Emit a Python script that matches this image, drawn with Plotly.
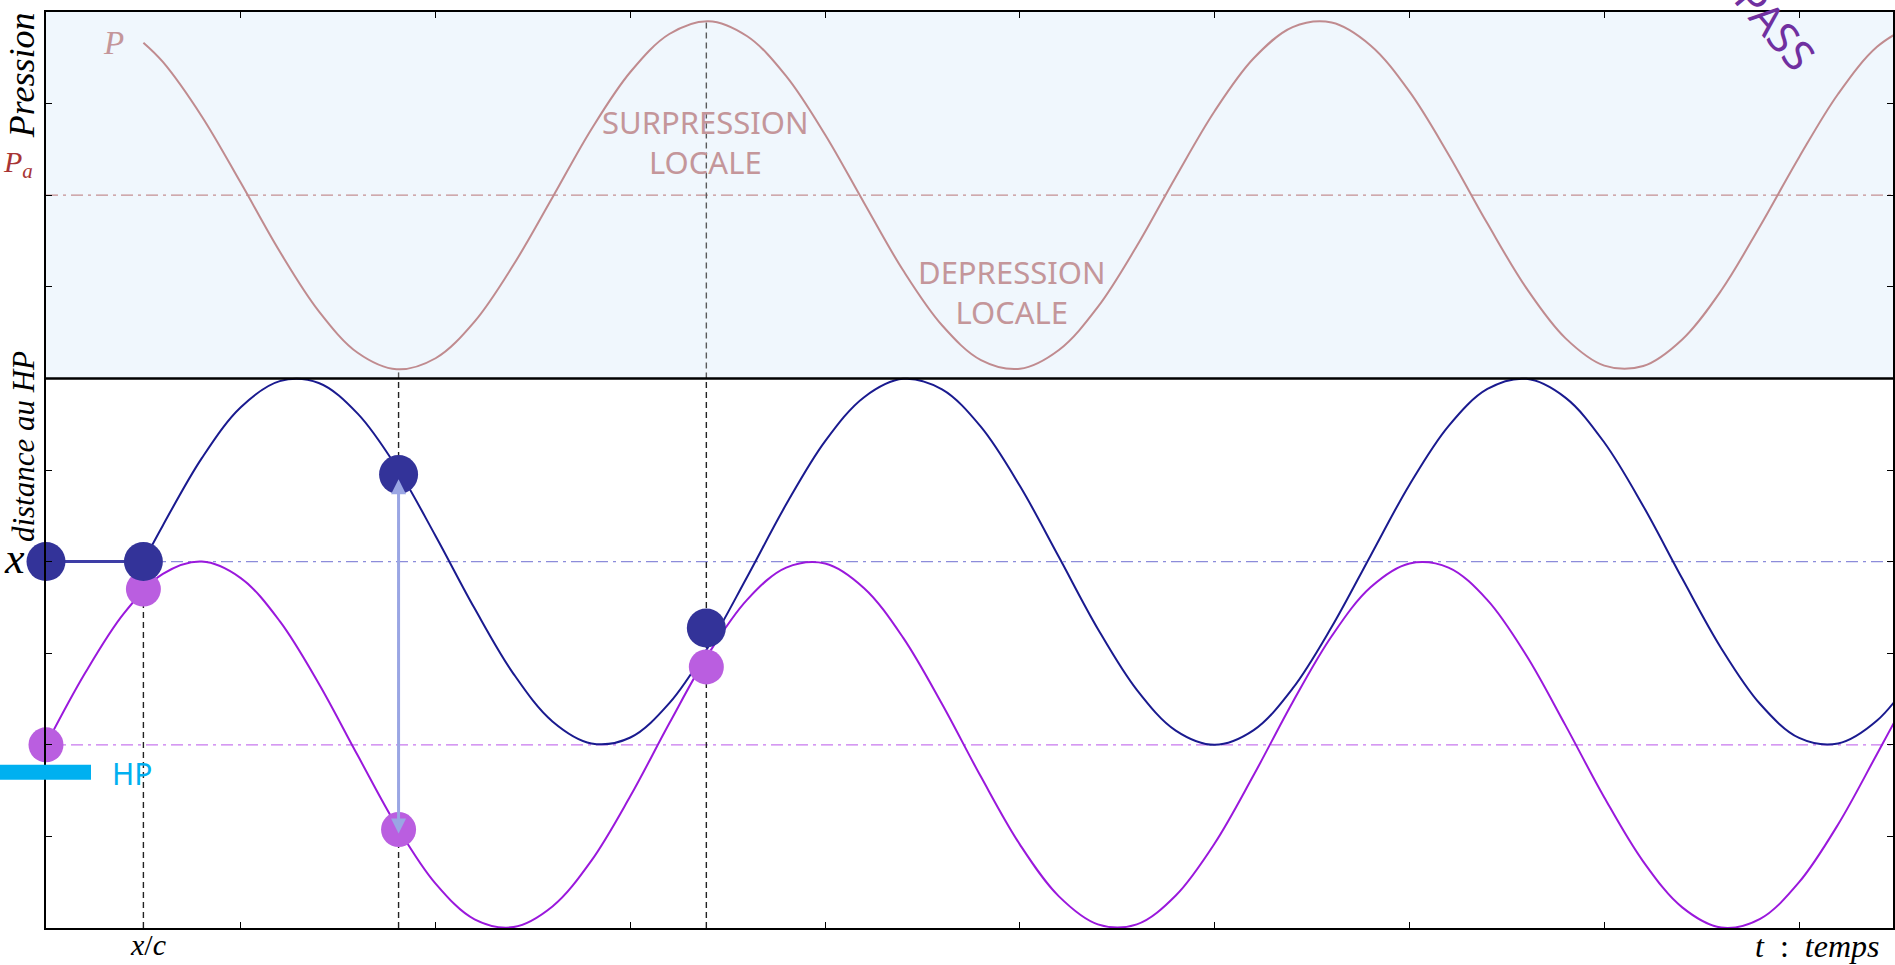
import plotly.graph_objects as go

# ---------------- data ----------------
# time axis samples (t units: one x tick = 1)
T_PURPLE = [0.0, 0.2, 0.4, 0.6, 0.8, 1.0, 1.2, 1.4, 1.6, 1.8, 2.0, 2.2, 2.4, 2.6, 2.8, 3.0,
            3.2, 3.4, 3.6, 3.8, 4.0, 4.2, 4.4, 4.6, 4.8, 5.0, 5.2, 5.4, 5.6, 5.8, 6.0, 6.2,
            6.4, 6.6, 6.8, 7.0, 7.2, 7.4, 7.6, 7.8, 8.0, 8.2, 8.4, 8.6, 8.8, 9.0, 9.2, 9.4, 9.6]
# displacement of the particle at the HP
Y_PURPLE = [-0.600, -0.444, -0.313, -0.227, -0.200, -0.236, -0.330, -0.466, -0.623, -0.777,
            -0.903, -0.981, -0.998, -0.953, -0.853, -0.712, -0.553, -0.402, -0.283, -0.213,
            -0.204, -0.258, -0.366, -0.511, -0.670, -0.818, -0.931, -0.992, -0.992, -0.929,
            -0.815, -0.666, -0.507, -0.363, -0.256, -0.204, -0.213, -0.284, -0.405, -0.557,
            -0.715, -0.855, -0.955, -0.999, -0.980, -0.900, -0.774, -0.620, -0.463]

# displacement of the particle at distance x (at rest before x/c)
T_BLUE = [0.0, 0.5, 0.6, 0.8, 1.0, 1.2, 1.4, 1.6, 1.8, 2.0, 2.2, 2.4, 2.6, 2.8, 3.0, 3.2, 3.4,
          3.6, 3.8, 4.0, 4.2, 4.4, 4.6, 4.8, 5.0, 5.2, 5.4, 5.6, 5.8, 6.0, 6.2, 6.4, 6.6, 6.8,
          7.0, 7.2, 7.4, 7.6, 7.8, 8.0, 8.2, 8.4, 8.6, 8.8, 9.0, 9.2, 9.4, 9.6]
Y_BLUE = [-0.200, -0.200, -0.121, 0.026, 0.137, 0.194, 0.190, 0.123, 0.006, -0.144, -0.302,
          -0.445, -0.549, -0.597, -0.584, -0.509, -0.386, -0.233, -0.075, 0.063, 0.159, 0.199,
          0.176, 0.094, -0.035, -0.190, -0.347, -0.480, -0.569, -0.600, -0.568, -0.477, -0.343,
          -0.187, -0.032, 0.096, 0.177, 0.199, 0.158, 0.060, -0.079, -0.237, -0.389, -0.511,
          -0.585, -0.597, -0.547, -0.442]

# pressure at distance x
T_PRESS = [0.5, 0.6, 0.8, 1.0, 1.2, 1.4, 1.6, 1.8, 2.0, 2.2, 2.4, 2.6, 2.8, 3.0, 3.2, 3.4, 3.6,
           3.8, 4.0, 4.2, 4.4, 4.6, 4.8, 5.0, 5.2, 5.4, 5.6, 5.8, 6.0, 6.2, 6.4, 6.6, 6.8, 7.0,
           7.2, 7.4, 7.6, 7.8, 8.0, 8.2, 8.4, 8.6, 8.8, 9.0, 9.2, 9.4, 9.6]
Y_PRESS = [0.933, 0.891, 0.772, 0.627, 0.477, 0.347, 0.256, 0.220, 0.244, 0.324, 0.448, 0.595,
           0.744, 0.869, 0.952, 0.980, 0.947, 0.860, 0.732, 0.583, 0.436, 0.316, 0.240, 0.221,
           0.262, 0.356, 0.489, 0.640, 0.784, 0.899, 0.967, 0.977, 0.927, 0.826, 0.689, 0.538,
           0.397, 0.288, 0.228, 0.227, 0.285, 0.392, 0.533, 0.683, 0.821, 0.924, 0.976]

# reference levels
PA_LEVEL = 0.6        # atmospheric pressure
X_LEVEL = -0.2        # rest position of particle at distance x
HP_LEVEL = -0.6       # rest position of particle at HP
PANEL_SPLIT = 0.2     # bottom of the pressure panel

# particles (balls)
BLUE_BALL_T = [0.0, 0.5, 1.81, 3.39]
BLUE_BALL_Y = [-0.20, -0.20, -0.01, -0.345]
PURPLE_BALL_T = [0.0, 0.5, 1.81, 3.39]
PURPLE_BALL_Y = [-0.60, -0.26, -0.785, -0.43]

# vertical dashed guides
GUIDE_T = [0.5, 1.81, 3.39]
GUIDE_TOP = [-0.26, 0.22, 0.98]

# arrow between the two particles
ARROW_T = 1.81
ARROW_Y = [-0.02, -0.797]

X_MAX = 9.482

# ---------------- colours ----------------
C_PRESS = "#C08B8F"
C_BLUE = "#1A1A8F"
C_PURPLE = "#9A18DC"
C_BLUE_BALL = "#333399"
C_PURPLE_BALL = "#BA5EE0"
C_TEXT_ROSE = "#C4969A"

SERIF = "Liberation Serif"
SANS = "Noto Sans"
DASHDOT = "12px,5px,3px,5px"

fig = go.Figure()

# reference dash-dot levels
fig.add_trace(go.Scatter(x=[0, X_MAX], y=[PA_LEVEL, PA_LEVEL], mode="lines",
                         line=dict(color="#C39092", width=1.3, dash=DASHDOT), hoverinfo="skip"))
fig.add_trace(go.Scatter(x=[0, X_MAX], y=[X_LEVEL, X_LEVEL], mode="lines",
                         line=dict(color="#8C8CDA", width=1.3, dash=DASHDOT), hoverinfo="skip"))
fig.add_trace(go.Scatter(x=[0, X_MAX], y=[HP_LEVEL, HP_LEVEL], mode="lines",
                         line=dict(color="#C878EE", width=1.3, dash=DASHDOT), hoverinfo="skip"))

# vertical dashed guides (black in lower panel, grey in pressure panel)
for t, top in zip(GUIDE_T, GUIDE_TOP):
    fig.add_trace(go.Scatter(x=[t, t], y=[-1, min(top, PANEL_SPLIT)], mode="lines",
                             line=dict(color="#222222", width=1.4, dash="6px,4px"),
                             hoverinfo="skip"))
    if top > PANEL_SPLIT:
        fig.add_trace(go.Scatter(x=[t, t], y=[PANEL_SPLIT, top], mode="lines",
                                 line=dict(color="#5A5A5A", width=1.4, dash="6px,4px"),
                                 hoverinfo="skip"))

# curves
fig.add_trace(go.Scatter(x=T_PRESS, y=Y_PRESS, mode="lines",
                         line=dict(color=C_PRESS, width=2, shape="spline", smoothing=1.0),
                         hoverinfo="skip"))
fig.add_trace(go.Scatter(x=T_PURPLE, y=Y_PURPLE, mode="lines",
                         line=dict(color=C_PURPLE, width=2, shape="spline", smoothing=1.0),
                         hoverinfo="skip"))
fig.add_trace(go.Scatter(x=T_BLUE[:2], y=Y_BLUE[:2], mode="lines",
                         line=dict(color="#3E3EA6", width=3), hoverinfo="skip"))
fig.add_trace(go.Scatter(x=T_BLUE[1:], y=Y_BLUE[1:], mode="lines",
                         line=dict(color=C_BLUE, width=2, shape="spline", smoothing=1.0),
                         hoverinfo="skip"))

# balls
fig.add_trace(go.Scatter(x=PURPLE_BALL_T, y=PURPLE_BALL_Y, mode="markers", cliponaxis=False,
                         marker=dict(color=C_PURPLE_BALL, size=35, line=dict(width=0)),
                         hoverinfo="skip"))
fig.add_trace(go.Scatter(x=BLUE_BALL_T, y=BLUE_BALL_Y, mode="markers", cliponaxis=False,
                         marker=dict(color=C_BLUE_BALL, size=39, line=dict(width=0)),
                         hoverinfo="skip"))

shapes = [
    # light pressure panel
    dict(type="rect", xref="paper", yref="y", x0=0, x1=1, y0=PANEL_SPLIT, y1=1,
         fillcolor="#F0F7FD", line=dict(width=0), layer="below"),
    # divider
    dict(type="line", xref="paper", yref="y", x0=0, x1=1, y0=PANEL_SPLIT, y1=PANEL_SPLIT,
         line=dict(color="black", width=2.5), layer="above"),
    # HP plate
    dict(type="rect", xref="paper", yref="y", xsizemode="pixel", ysizemode="pixel",
         xanchor=0, yanchor=HP_LEVEL, x0=-46, x1=45, y0=-20, y1=-35,
         fillcolor="#00B0F0", line=dict(width=0), layer="above"),
]

ann = []
def txt(text, x, y, size, color, family, angle=0, ref="data", **kw):
    r = ("x", "y") if ref == "data" else ("paper", "paper")
    d = dict(text=text, x=x, y=y, xref=r[0], yref=r[1], showarrow=False,
             font=dict(size=size, color=color, family=family), textangle=angle,
             xanchor="center", yanchor="middle")
    d.update(kw)
    ann.append(d)

# labels outside the plotting area (paper coordinates)
txt("<i>Pression</i>", -0.0130, 0.931, 36, "black", SERIF, angle=-90, ref="paper")
txt("<i>P<sub>a</sub></i>", -0.0151, 0.834, 30, "#A83434", SERIF, ref="paper")
txt("<i>x</i>", -0.0168, 0.403, 44, "black", SERIF, ref="paper")
txt("<i>distance au HP</i>", -0.0125, 0.526, 31, "black", SERIF, angle=-90, ref="paper")
txt("<i>x</i>/<i>c</i>", 0.0552, -0.0175, 30, "black", SERIF, ref="paper")
txt("<i>t</i>\u2002:\u2002<i>temps</i>", 0.9589, -0.0200, 32, "black", SERIF,
    ref="paper")
# labels inside the plot (data coordinates)
txt("<i>P</i>", 0.344, 0.932, 33, C_TEXT_ROSE, SERIF)
txt("SURPRESSION<br>LOCALE", 3.385, 0.716, 31, C_TEXT_ROSE, SANS)
txt("DEPRESSION<br>LOCALE", 4.958, 0.388, 31, C_TEXT_ROSE, SANS)
txt("HP", 0.441, -0.662, 30, "#00B0F0", SANS)
txt("PASS", 8.882, 0.969, 42, "#7030A0", SANS, angle=50)

# arrow between the particles
ann.append(dict(x=ARROW_T, y=ARROW_Y[0], ax=ARROW_T, ay=ARROW_Y[1], xref="x", yref="y",
                axref="x", ayref="y", text="", showarrow=True, arrowside="end+start",
                arrowhead=2, arrowsize=1, arrowwidth=3, arrowcolor="#9AA6E4"))

fig.update_layout(
    width=1895, height=965,
    margin=dict(l=46, r=0, t=12, b=37),
    paper_bgcolor="white", plot_bgcolor="white",
    showlegend=False,
    shapes=shapes, annotations=ann,
    xaxis=dict(range=[0, X_MAX], tick0=0, dtick=1, ticks="inside", ticklen=6,
               tickcolor="black", showline=True, linecolor="black", linewidth=2,
               mirror="ticks", showticklabels=False, showgrid=False, zeroline=False),
    yaxis=dict(range=[-1, 1], tick0=-1, dtick=0.2, ticks="inside", ticklen=6,
               tickcolor="black", showline=True, linecolor="black", linewidth=1.6,
               mirror="ticks", showticklabels=False, showgrid=False, zeroline=False),
)

fig.write_html("out.html", config={"displayModeBar": False},
               post_script="document.body.style.margin='0';document.body.style.overflow='hidden';")
